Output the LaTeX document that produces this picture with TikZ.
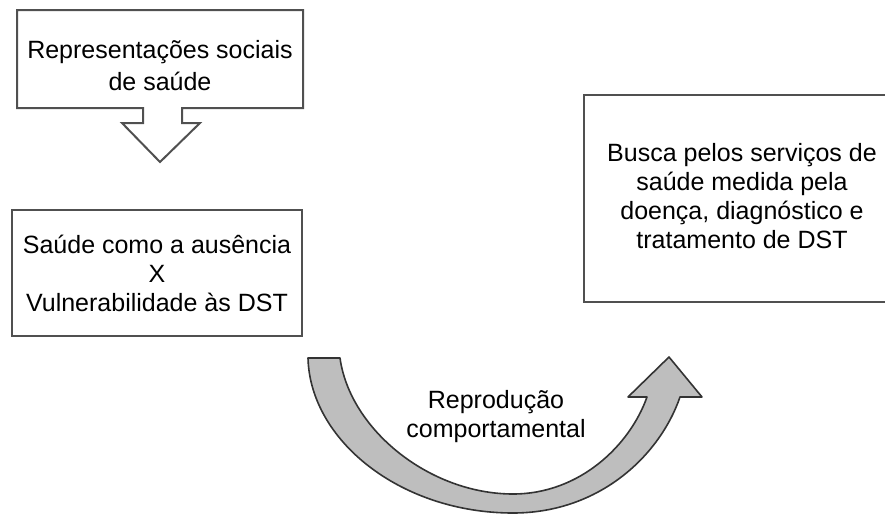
\documentclass[tikz,border=0pt]{standalone}
\usepackage{fontspec}
\setmainfont{Liberation Sans}
\definecolor{boxgray}{HTML}{505050}
\definecolor{bandfill}{HTML}{BEBEBE}
\definecolor{bandline}{HTML}{333333}
\tikzset{
  boxline/.style={draw=boxgray, line width=1pt},
  bandarrow/.style={fill=bandfill, draw=bandline, line width=0.8pt, line join=round},
  labeltext/.style={align=center, font=\fontsize{12.5}{14.5}\selectfont},
}
\begin{document}
\begin{tikzpicture}[x=0.5pt, y=-0.5pt]
  \useasboundingbox (0,0) rectangle (885,515);
  \clip (0,0) rectangle (885,515);
  % callout with arrow down
  \draw[boxline] (17,10) -- (303,10) -- (303,108) -- (182,108) -- (182,123) -- (200,123)
    -- (160,162) -- (122,123) -- (143,123) -- (143,108) -- (17,108) -- cycle;
  \node[labeltext, font=\fontsize{12.5}{16}\selectfont] (repr) at (160,66) {Representações sociais\\de saúde};
  % boxes
  \draw[boxline] (12,210) rectangle (302,336);
  \node[labeltext] (saude) at (157,273) {Saúde como a ausência\\X\\Vulnerabilidade às DST};
  \draw[boxline] (584,95) rectangle (905,302);
  \node[labeltext] (busca) at (742,196) {Busca pelos serviços de\\saúde medida pela\\doença, diagnóstico e\\tratamento de DST};
  % curved arrow
  \filldraw[bandarrow] (308,358) .. controls (310,440) and (400,513) .. (513,513)
    .. controls (600,513) and (660,455) .. (680,397) -- (702,397) -- (669,357) -- (628,397) -- (647,397)
    .. controls (630,445) and (580,494) .. (513,494)
    .. controls (430,494) and (350,430) .. (340,358) -- cycle;
  \node[labeltext] (reprod) at (496,417) {Reprodução\\comportamental};
\end{tikzpicture}
\end{document}
